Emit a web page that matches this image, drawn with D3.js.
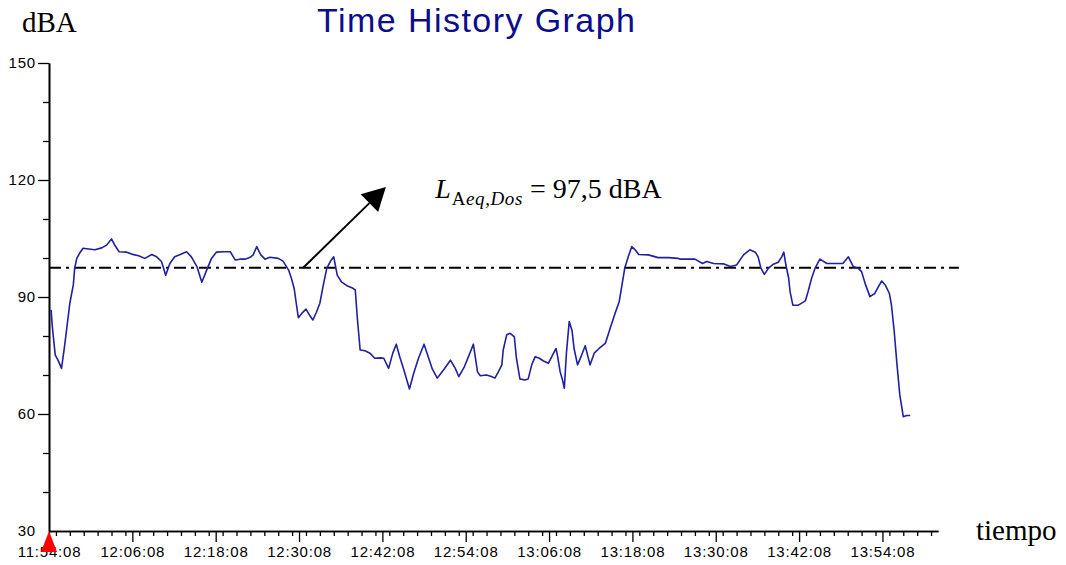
<!DOCTYPE html>
<html>
<head>
<meta charset="utf-8">
<script src="https://cdn.jsdelivr.net/npm/d3@7/dist/d3.min.js"></script>
<style>
  html, body { margin: 0; padding: 0; background: #fff; }
  svg { display: block; }
</style>
</head>
<body>
<svg id="chart" width="1066" height="565"></svg>
<script>
// Sound level time history (dBA) recorded from 11:54:08 onwards.
const startTime = "11:54:08";
const endTime = "14:02:08";

// Elapsed time of each sample, in minutes after the start time.
const sampleMinutes = [
  0.3, 0.5, 0.9, 1.3, 1.8, 2.2, 2.5, 3.0, 3.5, 3.7, 4.0, 4.4, 4.9, 5.7, 6.6, 7.6, 8.3, 9.0, 9.5, 10.1,
  11.2, 11.9, 12.9, 13.8, 14.8, 15.5, 16.2, 16.8, 17.4, 18.1, 18.9, 19.8, 20.5, 21.3, 22.0, 22.7, 23.4, 24.1, 25.1, 26.1,
  26.8, 27.5, 28.2, 28.9, 29.4, 29.9, 30.5, 31.1, 31.8, 33.0, 33.7, 34.5, 34.9, 35.3, 35.6, 35.9, 36.4, 37.0, 37.5, 38.0,
  38.5, 39.0, 39.5, 40.0, 40.5, 41.0, 41.5, 42.1, 42.9, 43.6, 44.1, 44.4, 44.8, 45.5, 46.2, 46.9, 47.7, 48.2, 48.9, 49.5,
  50.0, 50.5, 51.1, 51.9, 52.5, 53.2, 54.0, 54.6, 55.2, 55.9, 56.8, 57.8, 58.5, 59.0, 59.8, 60.4, 61.1, 61.7, 62.1, 63.0,
  63.7, 64.2, 64.7, 65.2, 65.4, 65.9, 66.4, 67.0, 67.3, 67.8, 68.5, 69.0, 69.5, 70.0, 70.6, 71.2, 71.9, 72.5, 73.0, 73.2,
  73.6, 73.9, 74.2, 74.5, 74.9, 75.3, 75.6, 76.1, 76.6, 77.2, 77.9, 78.5, 79.2, 80.1, 80.8, 81.5, 82.1, 82.5, 82.9, 83.4,
  83.9, 84.4, 84.9, 86.3, 87.7, 89.2, 90.6, 90.9, 93.0, 94.1, 94.7, 95.7, 97.1, 98.1, 99.0, 100.0, 100.9, 101.7, 102.1, 102.5,
  103.0, 103.6, 104.3, 105.0, 105.5, 105.8, 106.1, 106.5, 106.7, 107.1, 107.9, 108.9, 109.3, 109.8, 110.3, 111.0, 112.0, 113.2, 114.3, 115.1,
  115.8, 116.5, 117.0, 117.5, 118.2, 118.9, 119.4, 119.9, 120.4, 121.0, 121.3, 121.7, 122.1, 122.5, 123.0, 123.5, 124.0
];

// Sound pressure level of each sample, dBA.
const levelDbA = [
  86.7, 82.0, 75.1, 73.8, 71.7, 76.8, 81.1, 88.4, 93.1, 97.4, 99.9, 101.2, 102.5, 102.3, 102.1, 102.6, 103.3, 104.9, 103.2, 101.6,
  101.5, 101.0, 100.6, 99.9, 100.9, 100.3, 99.1, 95.6, 98.6, 100.3, 100.9, 101.6, 100.3, 97.8, 93.8, 96.9, 99.9, 101.5, 101.6, 101.6,
  99.5, 99.7, 99.7, 100.1, 100.8, 102.9, 100.8, 99.7, 100.2, 99.9, 99.2, 96.9, 94.8, 92.2, 88.4, 84.7, 85.8, 86.9, 85.4, 84.1,
  86.1, 88.4, 93.1, 97.4, 99.1, 100.3, 95.6, 93.9, 92.9, 92.4, 91.8, 84.5, 76.4, 76.2, 75.6, 74.3, 74.4, 74.3, 71.7, 75.6,
  77.9, 74.7, 71.3, 66.4, 70.4, 74.3, 77.9, 74.7, 71.5, 69.2, 71.3, 73.8, 71.7, 69.6, 72.1, 74.7, 77.9, 70.8, 69.8, 70.0,
  69.6, 69.2, 70.8, 72.6, 76.4, 80.3, 80.7, 79.8, 74.3, 69.0, 68.7, 69.0, 72.6, 74.7, 74.3, 73.6, 73.0, 75.1, 76.8, 75.1,
  70.8, 69.0, 66.6, 75.6, 83.7, 81.5, 76.8, 72.6, 74.7, 77.5, 72.6, 75.6, 76.8, 78.1, 82.0, 85.8, 88.8, 93.1, 97.4, 100.3,
  102.9, 102.1, 100.9, 100.8, 100.1, 100.1, 99.9, 99.7, 99.7, 98.6, 99.1, 98.6, 98.5, 97.8, 98.2, 100.8, 102.1, 101.5, 100.3, 97.4,
  95.8, 97.4, 98.4, 98.9, 100.3, 101.5, 98.2, 94.8, 91.4, 87.9, 87.9, 89.0, 91.4, 94.8, 97.4, 99.7, 98.6, 98.6, 98.6, 100.3,
  97.8, 97.4, 96.5, 93.5, 90.1, 90.9, 92.6, 94.1, 93.1, 90.9, 87.9, 81.1, 72.6, 64.9, 59.3, 59.6, 59.6
];

// Equivalent continuous level for the dose period.
const laeqDos = 97.5;
const laeqLineEnd = "14:05:08";

// Axis ticks.
const xTickLabels = ["11:54:08", "12:06:08", "12:18:08", "12:30:08", "12:42:08", "12:54:08",
                     "13:06:08", "13:18:08", "13:30:08", "13:42:08", "13:54:08"];
const yTickLabels = [30, 60, 90, 120, 150];
const yMinorTicks = [40, 50, 70, 80, 100, 110, 130, 140];

// Annotation anchors (time in minutes after start, level in dBA).
const arrowFrom = [36.6, laeqDos];
const arrowTo = [48.5, 118.2];
const labelAt = [55.6, 115.4];

const parseTime = d3.timeParse("%H:%M:%S");
const t0 = parseTime(startTime);
const t1 = parseTime(endTime);
const atMinute = m => new Date(t0.getTime() + m * 60000);

const svg = d3.select("#chart");

const x = d3.scaleTime().domain([t0, t1]).range([49, 938]);
const y = d3.scaleLinear().domain([30, 150]).range([531, 63]);

const axisFont = "'Liberation Sans', Arial, sans-serif";
const serif = "'Liberation Serif', 'Times New Roman', serif";

// Title
svg.append("text")
  .attr("x", 476).attr("y", 31.5)
  .attr("text-anchor", "middle")
  .attr("font-family", axisFont)
  .attr("font-size", 34)
  .attr("textLength", 318)
  .attr("lengthAdjust", "spacing")
  .attr("fill", "#0c0c8c")
  .text("Time History Graph");

// Axis titles
svg.append("text")
  .attr("x", 22).attr("y", 32)
  .attr("font-family", serif)
  .attr("font-size", 29)
  .attr("fill", "#000")
  .text("dBA");

svg.append("text")
  .attr("x", 976).attr("y", 540)
  .attr("font-family", serif)
  .attr("font-size", 29)
  .attr("fill", "#000")
  .text("tiempo");

// Y axis: minor ticks, then major ticks with labels
svg.append("g")
  .attr("transform", `translate(${x(t0)},0)`)
  .call(d3.axisLeft(y).tickValues(yMinorTicks).tickSize(6).tickFormat("").tickSizeOuter(0));

const yMajor = svg.append("g")
  .attr("transform", `translate(${x(t0)},0)`)
  .call(d3.axisLeft(y).tickValues(yTickLabels).tickSize(11).tickPadding(2).tickSizeOuter(0));

yMajor.selectAll(".tick").filter(d => d === 30).select("line").remove();

// X axis: minor ticks every 2 minutes, major ticks every 12 minutes
const xMajorTimes = xTickLabels.map(parseTime);
const xMinorTimes = d3.timeMinute.range(t0, new Date(t1.getTime() + 1000), 2)
  .map(d => new Date(d.getTime() + 8000))
  .filter(d => d <= t1 && !xMajorTimes.some(m => m.getTime() === d.getTime()));

svg.append("g")
  .attr("transform", `translate(0,${y(30)})`)
  .call(d3.axisBottom(x).tickValues(xMinorTimes).tickSize(5).tickFormat("").tickSizeOuter(0));

const xMajor = svg.append("g")
  .attr("transform", `translate(0,${y(30)})`)
  .call(d3.axisBottom(x).tickValues(xMajorTimes).tickSize(11)
        .tickFormat(d3.timeFormat("%H:%M:%S")).tickSizeOuter(0));

xMajor.selectAll(".tick text").attr("y", 26).attr("dy", 0);

svg.selectAll(".domain").attr("stroke", "#000").attr("stroke-width", 1.6);
svg.selectAll(".tick line").attr("stroke", "#000").attr("stroke-width", 1.3);
svg.selectAll(".tick text")
  .attr("font-family", axisFont)
  .attr("font-size", 15)
  .attr("letter-spacing", 0.8)
  .attr("fill", "#000");

// Start marker
svg.append("path")
  .attr("transform", `translate(${x(t0)},${y(30)})`)
  .attr("d", "M0,0 L8,21 L-8,21 Z")
  .attr("fill", "#ff0000");

// LAeq reference line (dash-dot)
svg.append("line")
  .attr("x1", x(t0)).attr("x2", x(parseTime(laeqLineEnd)))
  .attr("y1", y(laeqDos)).attr("y2", y(laeqDos))
  .attr("stroke", "#000")
  .attr("stroke-width", 2)
  .attr("stroke-dasharray", "12,5,3,5");

// Measured levels
const series = sampleMinutes.map((m, i) => [atMinute(m), levelDbA[i]]);
svg.append("path")
  .datum(series)
  .attr("fill", "none")
  .attr("stroke", "#2020a0")
  .attr("stroke-width", 1.6)
  .attr("stroke-linejoin", "round")
  .attr("d", d3.line().x(d => x(d[0])).y(d => y(d[1])));

// Arrow pointing at the LAeq value label
const ax0 = x(atMinute(arrowFrom[0])), ay0 = y(arrowFrom[1]);
const ax1 = x(atMinute(arrowTo[0])), ay1 = y(arrowTo[1]);
const ang = Math.atan2(ay1 - ay0, ax1 - ax0);
const headLen = 23, headHalf = 12.5;
const bx = ax1 - headLen * Math.cos(ang), by = ay1 - headLen * Math.sin(ang);
svg.append("line")
  .attr("x1", ax0).attr("y1", ay0).attr("x2", bx).attr("y2", by)
  .attr("stroke", "#000").attr("stroke-width", 2);
svg.append("path")
  .attr("d", `M${ax1},${ay1} L${bx + headHalf * Math.sin(ang)},${by - headHalf * Math.cos(ang)} L${bx - headHalf * Math.sin(ang)},${by + headHalf * Math.cos(ang)} Z`)
  .attr("fill", "#000");

// LAeq,Dos label
const label = svg.append("text")
  .attr("x", x(atMinute(labelAt[0])))
  .attr("y", y(labelAt[1]))
  .attr("font-family", serif)
  .attr("font-size", 28)
  .attr("fill", "#000");
label.append("tspan").attr("font-style", "italic").text("L");
label.append("tspan").attr("font-size", 19).attr("dy", 7).attr("dx", 1).attr("letter-spacing", 0.6).text("A");
label.append("tspan").attr("font-size", 19).attr("font-style", "italic").attr("letter-spacing", 0.6).text("eq,Dos");
label.append("tspan").attr("dy", -7).text(" = " + d3.format(".1f")(laeqDos).replace(".", ",") + " dBA");
</script>
</body>
</html>
